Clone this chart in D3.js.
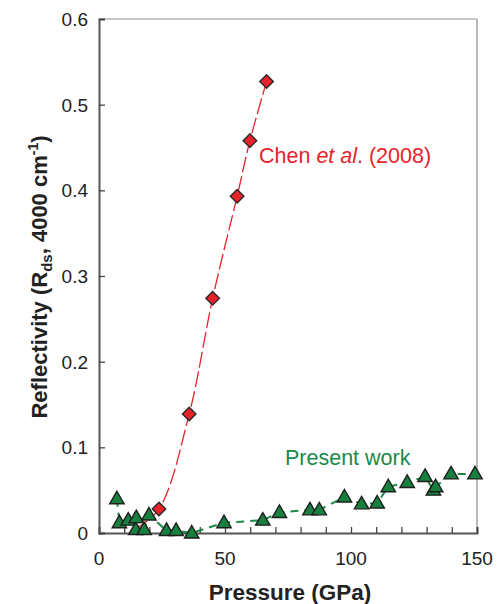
<!DOCTYPE html>
<html>
<head>
<meta charset="utf-8">
<script src="https://cdn.jsdelivr.net/npm/d3@7"></script>
<style>
  html, body { margin: 0; padding: 0; background: #fff; }
  svg { display: block; font-family: "Liberation Sans", Arial, Helvetica, sans-serif; }
</style>
</head>
<body>
<svg id="chart" width="500" height="604"></svg>
<script>
// Chen et al. (2008) reflectivity vs pressure
const chenPressure = [14, 23.8, 35.8, 45.1, 54.8, 59.9, 66.5];
const chenReflect  = [0.004, 0.028, 0.139, 0.274, 0.393, 0.458, 0.527];
const chenShown    = [false, true, true, true, true, true, true];

// Present work reflectivity vs pressure
const presentPressure = [7.1, 8.1, 11.6, 14.6, 14.8, 17.9, 19.8, 26.8, 30.6, 36.8,
  49.6, 65.0, 71.6, 83.7, 87.4, 97.4, 104.2, 110.4, 114.8, 122.3, 129.4, 132.7, 133.6, 139.7, 149.2];
const presentReflect  = [0.040, 0.012, 0.015, 0.004, 0.018, 0.004, 0.021, 0.003, 0.003, 0.000,
  0.012, 0.015, 0.024, 0.027, 0.027, 0.042, 0.034, 0.035, 0.054, 0.059, 0.066, 0.050, 0.054, 0.069, 0.069];

const xTicks = [0, 50, 100, 150];
const xMinorTicks = d3.range(0, 151, 10);
const yTicks = [0, 0.1, 0.2, 0.3, 0.4, 0.5, 0.6];

const svg = d3.select("#chart");
const plotLeft = 99, plotRight = 477, plotTop = 19, plotBottom = 533;

const x = d3.scaleLinear().domain([0, 150]).range([plotLeft, plotRight]);
const y = d3.scaleLinear().domain([0, 0.6]).range([plotBottom, plotTop]);

const red = "#e8222b";
const green = "#1a8a47";

// frame: light top/right, dark left/bottom
svg.append("line").attr("x1", plotLeft).attr("x2", plotRight).attr("y1", plotTop).attr("y2", plotTop)
  .attr("stroke", "#b4b4b4").attr("stroke-width", 1.6);
svg.append("line").attr("x1", plotRight).attr("x2", plotRight).attr("y1", plotTop).attr("y2", plotBottom)
  .attr("stroke", "#a8a8a8").attr("stroke-width", 1.6);

// x axis with inward ticks
const xAxis = svg.append("g").attr("transform", `translate(0,${plotBottom})`)
  .call(d3.axisBottom(x).tickValues(xMinorTicks).tickSize(-6).tickFormat(""));
xAxis.select(".domain").attr("stroke", "#555").attr("stroke-width", 2);
xAxis.selectAll(".tick line").attr("stroke", "#444").attr("stroke-width", 1.3);

svg.append("g").selectAll("text").data(xTicks).join("text")
  .attr("x", d => x(d)).attr("y", 565)
  .attr("text-anchor", "middle").attr("font-size", 19).attr("fill", "#222")
  .text(d => d);

// y axis with inward ticks
const yAxis = svg.append("g").attr("transform", `translate(${plotLeft},0)`)
  .call(d3.axisLeft(y).tickValues(yTicks).tickSize(-6).tickFormat(""));
yAxis.select(".domain").attr("stroke", "#555").attr("stroke-width", 2);
yAxis.selectAll(".tick line").attr("stroke", "#444").attr("stroke-width", 1.3);

svg.append("g").selectAll("text").data(yTicks).join("text")
  .attr("x", 88).attr("y", d => y(d) + 7)
  .attr("text-anchor", "end").attr("font-size", 19).attr("fill", "#222")
  .text(d => d === 0 ? "0" : d3.format(".1f")(d));

// axis titles
svg.append("text").attr("x", (plotLeft + plotRight) / 2 + 2).attr("y", 600)
  .attr("text-anchor", "middle").attr("font-size", 22.5).attr("font-weight", "bold").attr("fill", "#222")
  .text("Pressure (GPa)");

const yl = svg.append("text").attr("transform", "translate(47,277) rotate(-90)")
  .attr("text-anchor", "middle").attr("font-size", 22).attr("font-weight", "bold").attr("fill", "#222");
yl.append("tspan").text("Reflectivity (R");
yl.append("tspan").attr("font-size", 15).attr("dy", 5).text("ds");
yl.append("tspan").attr("dy", -5).text(",  4000 cm");
yl.append("tspan").attr("font-size", 14).attr("dy", -9).text("-1");
yl.append("tspan").attr("dy", 9).text(")");

// Chen et al. curve
const chenData = chenPressure.map((p, i) => ({ p, r: chenReflect[i], shown: chenShown[i] }));
const line = d3.line().x(d => x(d.p)).y(d => y(d.r)).curve(d3.curveCatmullRom.alpha(0.5));
svg.append("path").datum(chenData).attr("d", line)
  .attr("fill", "none").attr("stroke", red).attr("stroke-width", 1.3)
  .attr("stroke-dasharray", "16,4");

// Present work curve
const presentData = presentPressure.map((p, i) => ({ p, r: presentReflect[i] }));
const gline = d3.line().x(d => x(d.p)).y(d => y(d.r));
svg.append("path").datum(presentData).attr("d", gline)
  .attr("fill", "none").attr("stroke", green).attr("stroke-width", 2)
  .attr("stroke-dasharray", "8,6");

// Chen diamonds
svg.append("g").selectAll("path").data(chenData.filter(d => d.shown)).join("path")
  .attr("d", d3.symbol(d3.symbolSquare, 92)())
  .attr("transform", d => `translate(${x(d.p)},${y(d.r)}) rotate(45)`)
  .attr("fill", red).attr("stroke", "#2a2a2a").attr("stroke-width", 1.4);

// Present work triangles
const tri = "M0,-7.5 L7.2,5 L-7.2,5 Z";
svg.append("g").selectAll("path").data(presentData).join("path")
  .attr("d", tri)
  .attr("transform", d => `translate(${x(d.p)},${y(d.r)})`)
  .attr("fill", "#17803f").attr("stroke", "#1e1e1e").attr("stroke-width", 1.4);

// series labels
const chenLabel = svg.append("text").attr("x", 259).attr("y", 163)
  .attr("font-size", 21.5).attr("fill", red);
chenLabel.append("tspan").text("Chen ");
chenLabel.append("tspan").attr("font-style", "italic").text("et al");
chenLabel.append("tspan").text(". (2008)");

svg.append("text").attr("x", 285).attr("y", 465)
  .attr("font-size", 21.5).attr("fill", green).text("Present work");
</script>
</body>
</html>
